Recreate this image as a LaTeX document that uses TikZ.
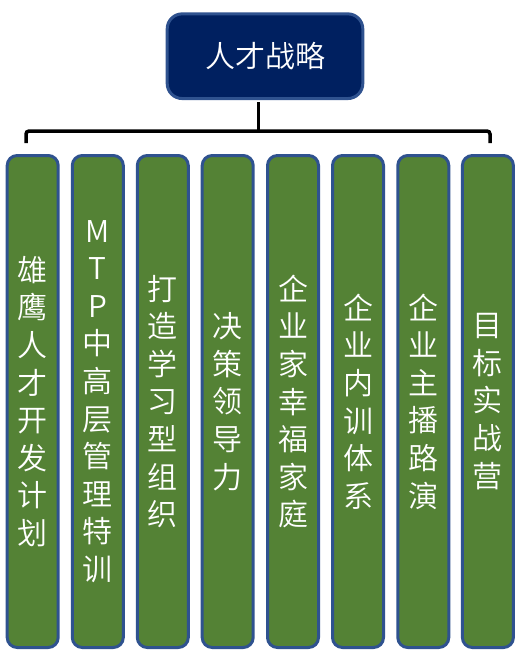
\documentclass[tikz,border=0pt]{standalone}
\usepackage{fontspec}
\setmainfont{Noto Sans CJK SC DemiLight}
\definecolor{navy}{HTML}{002060}
\definecolor{bord}{HTML}{2F528F}
\definecolor{leaf}{HTML}{548235}
\begin{document}
\begin{tikzpicture}[x=1pt,y=1pt,
  titlebox/.style={draw=bord, line width=3pt, fill=navy, rounded corners=15pt,
    minimum width=195.6pt, minimum height=84.7pt, inner sep=0pt,
    text=white, font=\fontsize{30}{36}\selectfont},
  colbox/.style={draw=bord, line width=3pt, fill=leaf, rounded corners=10pt,
    minimum width=51pt, minimum height=492pt, inner sep=0pt, align=center,
    text=white, font=\fontsize{30}{37.6}\selectfont},
  conn/.style={draw=black, line width=3.5pt, line cap=butt}]
\useasboundingbox (0,0) rectangle (524,-657);
\node[titlebox] (t) at (265,-56.2) {人才战略};
\node[colbox] (b1) at (32.7,-401.5) {雄\\鹰\\人\\才\\开\\发\\计\\划};
\node[colbox] (b2) at (97.8,-401.5) {M\\T\\P\\中\\高\\层\\管\\理\\特\\训};
\node[colbox] (b3) at (162.8,-401.5) {打\\造\\学\\习\\型\\组\\织};
\node[colbox] (b4) at (227.7,-401.5) {决\\策\\领\\导\\力};
\node[colbox] (b5) at (293,-401.5) {企\\业\\家\\幸\\福\\家\\庭};
\node[colbox] (b6) at (358,-401.5) {企\\业\\内\\训\\体\\系};
\node[colbox] (b7) at (423.3,-401.5) {企\\业\\主\\播\\路\\演};
\node[colbox] (b8) at (487.9,-401.5) {目\\标\\实\\战\\营};
\coordinate (top) at (258.3,-102);
\coordinate (mid) at (258.3,-131);
\coordinate (bl) at (26,-143);
\coordinate (br) at (490,-143);
\draw[conn] (top) -- (mid);
\draw[conn, rounded corners=3pt] (bl) |- (mid) -| (br);
\end{tikzpicture}
\end{document}
